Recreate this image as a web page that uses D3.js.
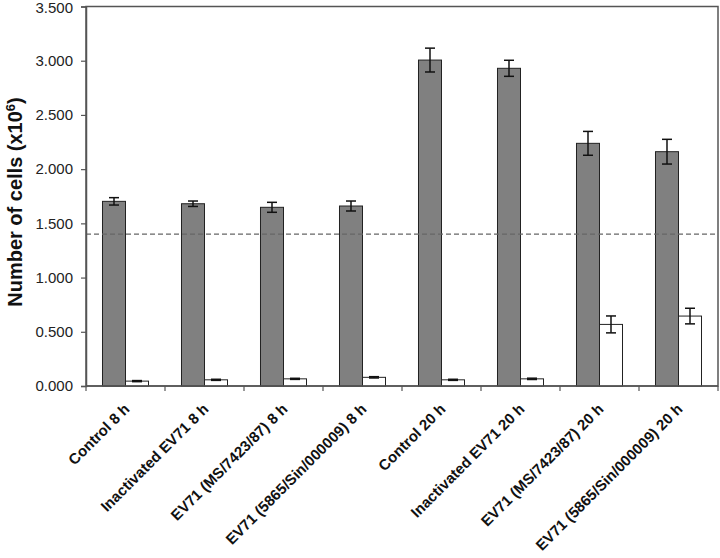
<!DOCTYPE html>
<html>
<head>
<meta charset="utf-8">
<script src="https://cdn.jsdelivr.net/npm/d3@7"></script>
<style>
  body { margin: 0; background: #fff; }
  svg { display: block; font-family: "Liberation Sans", Arial, sans-serif; }
</style>
</head>
<body>
<svg id="chart" width="720" height="558"></svg>
<script>
const categories = [
  "Control 8 h",
  "Inactivated EV71 8 h",
  "EV71 (MS/7423/87) 8 h",
  "EV71 (5865/Sin/000009) 8 h",
  "Control 20 h",
  "Inactivated EV71 20 h",
  "EV71 (MS/7423/87) 20 h",
  "EV71 (5865/Sin/000009) 20 h"
];
const series = ["gray", "white"];
const grayValues  = [1.703, 1.681, 1.648, 1.660, 3.006, 2.930, 2.238, 2.161];
const grayErrors  = [0.034, 0.025, 0.046, 0.046, 0.110, 0.074, 0.110, 0.114];
const whiteValues = [0.045, 0.057, 0.066, 0.080, 0.057, 0.066, 0.568, 0.645];
const whiteErrors = [0.005, 0.005, 0.005, 0.006, 0.005, 0.006, 0.078, 0.072];
const referenceLine = 1.4;
const yTicks = [0, 0.5, 1.0, 1.5, 2.0, 2.5, 3.0, 3.5];

const svg = d3.select("#chart");
const m = { left: 86, right: 2, top: 6.5, bottom: 172 };
const W = 720, H = 558;
const x0 = d3.scaleBand().domain(categories).range([m.left, W - m.right]).paddingInner(0).paddingOuter(0);
const x1 = d3.scaleBand().domain(series).range([0, x0.bandwidth()]).paddingInner(0).paddingOuter(0.717);
const y = d3.scaleLinear().domain([0, 3.5]).range([H - m.bottom, m.top]);

const data = categories.map((c, i) => ({
  cat: c,
  vals: [
    { s: "gray", v: grayValues[i], e: grayErrors[i] },
    { s: "white", v: whiteValues[i], e: whiteErrors[i] }
  ]
}));

// frame (top & right)
svg.append("rect")
  .attr("x", m.left).attr("y", y(3.5))
  .attr("width", (W - m.right) - m.left).attr("height", y(0) - y(3.5))
  .attr("fill", "none").attr("stroke", "#555").attr("stroke-width", 1.5);

// bars
const g = svg.append("g").selectAll("g").data(data).join("g")
  .attr("transform", d => `translate(${x0(d.cat)},0)`);
g.selectAll("rect").data(d => d.vals).join("rect")
  .attr("x", d => x1(d.s))
  .attr("y", d => y(d.v))
  .attr("width", x1.bandwidth())
  .attr("height", d => y(0) - y(d.v))
  .attr("fill", d => d.s === "gray" ? "#808080" : "#ffffff")
  .attr("stroke", "#222").attr("stroke-width", 1);

// error bars
const eb = g.selectAll("g.err").data(d => d.vals).join("g").attr("class", "err");
eb.append("line")
  .attr("x1", d => x1(d.s) + x1.bandwidth() / 2).attr("x2", d => x1(d.s) + x1.bandwidth() / 2)
  .attr("y1", d => y(d.v + d.e)).attr("y2", d => y(d.v - d.e))
  .attr("stroke", "#111").attr("stroke-width", 1.5);
[1, -1].forEach(sgn => {
  eb.append("line")
    .attr("x1", d => x1(d.s) + x1.bandwidth() / 2 - 5).attr("x2", d => x1(d.s) + x1.bandwidth() / 2 + 5)
    .attr("y1", d => y(d.v + sgn * d.e)).attr("y2", d => y(d.v + sgn * d.e))
    .attr("stroke", "#111").attr("stroke-width", 1.5);
});

// reference dashed line
svg.append("line")
  .attr("x1", m.left).attr("x2", W - m.right)
  .attr("y1", y(referenceLine)).attr("y2", y(referenceLine))
  .attr("stroke", "#666").attr("stroke-width", 1.2).attr("stroke-dasharray", "5,3");

// y axis
const yAxis = svg.append("g").attr("transform", `translate(${m.left},0)`)
  .call(d3.axisLeft(y).tickValues(yTicks).tickFormat(d3.format(".3f")).tickSize(5).tickPadding(8));
yAxis.select(".domain").attr("stroke", "#555").attr("stroke-width", 1.5);
yAxis.selectAll(".tick line").attr("stroke", "#555").attr("stroke-width", 1.2);
yAxis.selectAll("text").attr("font-size", 15).attr("fill", "#222")
  .attr("font-family", "'Liberation Sans', Arial, sans-serif");
yAxis.selectAll(".tick").filter(d => d === 3.5).select("text").attr("dy", "0.42em");

// x axis
const xAxis = svg.append("g").attr("transform", `translate(0,${y(0)})`);
xAxis.append("line").attr("x1", m.left).attr("x2", W - m.right).attr("y1", 0).attr("y2", 0)
  .attr("stroke", "#555").attr("stroke-width", 1.5);
const bounds = categories.map(c => x0(c)).concat([W - m.right]);
xAxis.selectAll("line.tk").data(bounds).join("line").attr("class", "tk")
  .attr("x1", d => d).attr("x2", d => d).attr("y1", 0).attr("y2", 5)
  .attr("stroke", "#555").attr("stroke-width", 1.2);
xAxis.selectAll("text").data(categories).join("text")
  .attr("transform", d => `translate(${x0(d) + x0.bandwidth() / 2 + 5},${24}) rotate(-45)`)
  .attr("text-anchor", "end")
  .attr("font-size", 15).attr("font-weight", "bold").attr("fill", "#111")
  .text(d => d);

// y title
const t = svg.append("text")
  .attr("transform", `translate(22,202) rotate(-90)`)
  .attr("text-anchor", "middle")
  .attr("font-size", 20).attr("font-weight", "bold").attr("fill", "#111");
t.append("tspan").text("Number of cells (x10");
t.append("tspan").attr("baseline-shift", "super").attr("font-size", 13).text("6");
t.append("tspan").text(")");
</script>
</body>
</html>
